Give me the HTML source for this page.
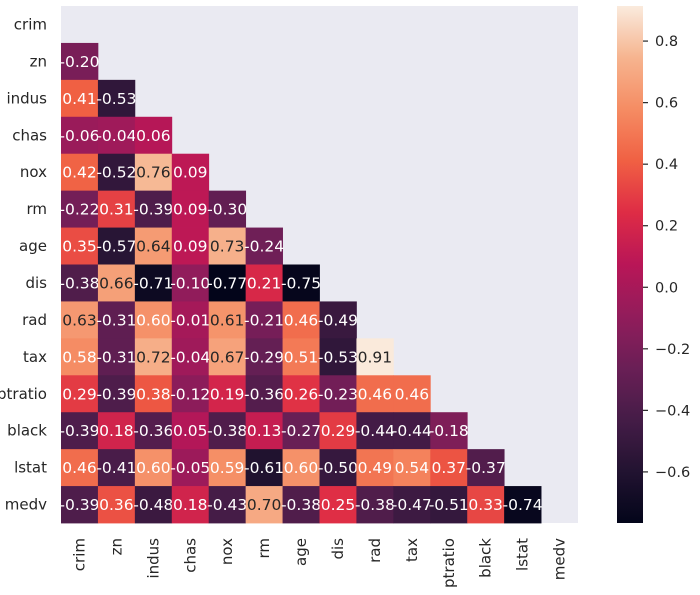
<!DOCTYPE html>
<html><head><meta charset="utf-8"><style>
html,body{margin:0;padding:0;background:#fff;}
svg{display:block;font-family:"DejaVu Sans","Liberation Sans",sans-serif;}
</style></head><body>
<svg id="chart" width="700" height="595" viewBox="0 0 700 595">
<defs>
<linearGradient id="cbgrad" x1="0" y1="1" x2="0" y2="0"></linearGradient>
</defs>
<rect x="61" y="6" width="517" height="517" fill="#eaeaf2"/>
<g id="cells"></g>
<g id="ylabels"></g>
<g id="xlabels"></g>
<rect id="cbar" x="617" y="6" width="26" height="517" fill="url(#cbgrad)"/>
<g id="cbticks"></g>
</svg>
<script>
const labels = ["crim","zn","indus","chas","nox","rm","age","dis","rad","tax","ptratio","black","lstat","medv"];
const row_zn = [-0.20];
const row_indus = [0.41,-0.53];
const row_chas = [-0.06,-0.04,0.06];
const row_nox = [0.42,-0.52,0.76,0.09];
const row_rm = [-0.22,0.31,-0.39,0.09,-0.30];
const row_age = [0.35,-0.57,0.64,0.09,0.73,-0.24];
const row_dis = [-0.38,0.66,-0.71,-0.10,-0.77,0.21,-0.75];
const row_rad = [0.63,-0.31,0.60,-0.01,0.61,-0.21,0.46,-0.49];
const row_tax = [0.58,-0.31,0.72,-0.04,0.67,-0.29,0.51,-0.53,0.91];
const row_ptratio = [0.29,-0.39,0.38,-0.12,0.19,-0.36,0.26,-0.23,0.46,0.46];
const row_black = [-0.39,0.18,-0.36,0.05,-0.38,0.13,-0.27,0.29,-0.44,-0.44,-0.18];
const row_lstat = [0.46,-0.41,0.60,-0.05,0.59,-0.61,0.60,-0.50,0.49,0.54,0.37,-0.37];
const row_medv = [-0.39,0.36,-0.48,0.18,-0.43,0.70,-0.38,0.25,-0.38,-0.47,-0.51,0.33,-0.74];
const rows = [[],row_zn,row_indus,row_chas,row_nox,row_rm,row_age,row_dis,row_rad,row_tax,row_ptratio,row_black,row_lstat,row_medv];
const cbTicks = [-0.6,-0.4,-0.2,0.0,0.2,0.4,0.6,0.8];
const vmin = -0.766, vmax = 0.914;

const NS = "http://www.w3.org/2000/svg";
const X0 = 61, Y0 = 6, SIZE = 517, n = labels.length, cw = SIZE / n;
const xPos = j => X0 + j * cw;
const yPos = i => Y0 + i * cw;
const cbY = v => 523 - (v - vmin) / (vmax - vmin) * 517;

const stops = [[0,"#03051a"],[0.1,"#221331"],[0.2,"#451c47"],[0.3,"#6a1f56"],[0.4,"#921c5b"],[0.5,"#b91657"],[0.6,"#de2c45"],[0.7,"#f06043"],[0.8,"#f58c63"],[0.9,"#f6b48f"],[1,"#faebdd"]];
const hex = h => [1,3,5].map(k => parseInt(h.substr(k,2),16));
function cmap(v){
  let t = Math.max(0, Math.min(1, (v - vmin) / (vmax - vmin)));
  for (let k = 0; k < stops.length - 1; k++) {
    if (t <= stops[k+1][0]) {
      const a = hex(stops[k][1]), b = hex(stops[k+1][1]);
      const f = (t - stops[k][0]) / (stops[k+1][0] - stops[k][0]);
      return a.map((c, m) => Math.round(c + (b[m] - c) * f));
    }
  }
  return hex(stops[stops.length-1][1]);
}
function lum(c){
  const l = c.map(x => { x/=255; return x <= 0.03928 ? x/12.92 : Math.pow((x+0.055)/1.055, 2.4); });
  return 0.2126*l[0] + 0.7152*l[1] + 0.0722*l[2];
}
function mk(tag, attrs, parent){
  const e = document.createElementNS(NS, tag);
  for (const k in attrs) e.setAttribute(k, attrs[k]);
  parent.appendChild(e);
  return e;
}
const cells = document.getElementById("cells");
rows.forEach((r, i) => {
  r.forEach((v, j) => {
    const c = cmap(v);
    const rect = mk("rect", {x: xPos(j), y: yPos(i), width: cw + 0.4, height: cw + 0.4, fill: `rgb(${c.join(",")})`}, cells);
    
    
    const t = mk("text", {x: xPos(j) + cw/2, y: yPos(i) + cw/2 + 5.5, "text-anchor": "middle", "font-size": 15.5, fill: lum(c) < 0.408 ? "#ffffff" : "#262626"}, cells);
    t.textContent = (v < 0 ? "-" : "") + Math.abs(v).toFixed(2);
    
    
  });
});
const yl = document.getElementById("ylabels"), xl = document.getElementById("xlabels");
labels.forEach((lab, i) => {
  const t = mk("text", {x: 47, y: yPos(i) + cw/2 + 5, "text-anchor": "end", "font-size": 15, fill: "#262626"}, yl);
  t.textContent = lab;
  
  
  const cx = xPos(i) + cw/2 + 5;
  const u = mk("text", {x: 0, y: 0, "text-anchor": "end", "font-size": 15, fill: "#262626", transform: `translate(${cx},538) rotate(-90)`}, xl);
  u.textContent = lab;
  
  
});
const grad = document.getElementById("cbgrad");
for (let k = 0; k <= 40; k++) {
  const v = vmin + (vmax - vmin) * k / 40;
  mk("stop", {offset: (k/40).toFixed(3), "stop-color": `rgb(${cmap(v).join(",")})`}, grad);
}
const cbt = document.getElementById("cbticks");
cbTicks.forEach(v => {
  const y = cbY(v);
  const l = mk("line", {x1: 643, x2: 648, y1: y, y2: y, stroke: "#262626", "stroke-width": 1.2}, cbt);
  
  
  const t = mk("text", {x: 655, y: y + 5, "font-size": 14.5, fill: "#262626"}, cbt);
  t.textContent = (v < 0 ? "\u2212" : "") + Math.abs(v).toFixed(1);
  
  
});
</script>
</body></html>
